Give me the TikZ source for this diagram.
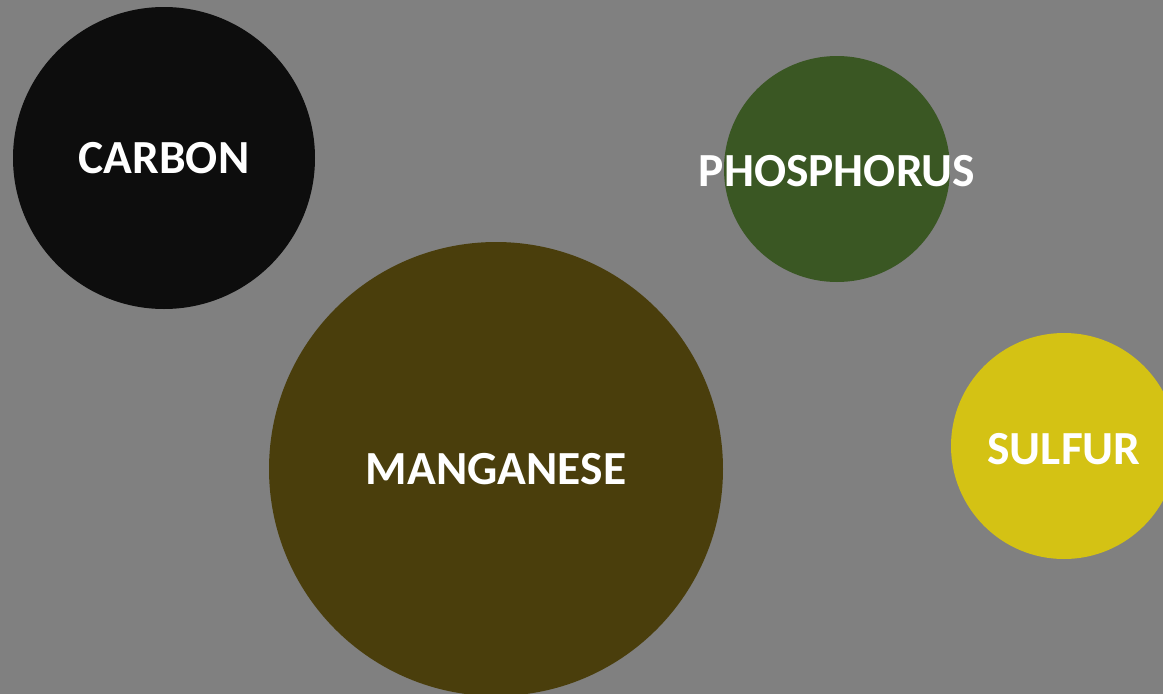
\documentclass[tikz,border=0pt]{standalone}
\usepackage{fontspec}
\setmainfont{Carlito}
\definecolor{bg}{HTML}{808080}
\definecolor{carbonc}{HTML}{0D0D0D}
\definecolor{phosc}{HTML}{3A5723}
\definecolor{mangc}{HTML}{4A3E0C}
\definecolor{sulfc}{HTML}{D4C214}
\tikzset{
  lbl/.style={text=white, font=\fontsize{47.5}{52}\selectfont\bfseries},
  bubble/.style={circle, inner sep=0pt, draw=none, lbl},
}
\begin{document}
\begin{tikzpicture}[x=1pt,y=-1pt]
\useasboundingbox (0,0) rectangle (1163,694);
\fill[bg] (0,0) rectangle (1163,694);
\clip (0,0) rectangle (1163,694);
\node[bubble, fill=carbonc, minimum size=302pt] (carbon) at (164,158) {CARBON};
\node[bubble, fill=phosc, minimum size=226pt] (phos) at (837,169) {};
\node[lbl] (phoslabel) at (837,171) {PHOSPHORUS};
\node[bubble, fill=mangc, minimum size=454pt] (mang) at (496,469) {MANGANESE};
\node[bubble, fill=sulfc, minimum size=226pt] (sulf) at (1064,446) {};
\node[lbl] (sulflabel) at (1064,449) {SULFUR};
\end{tikzpicture}
\end{document}
